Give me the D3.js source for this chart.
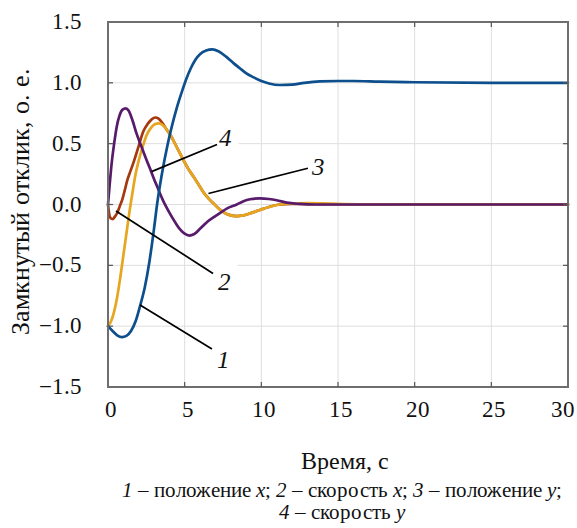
<!DOCTYPE html>
<html><head><meta charset="utf-8">
<script src="https://cdn.jsdelivr.net/npm/d3@7"></script>
<style>
@font-face{font-family:"ChartSerif";font-style:normal;font-weight:400;src:local("Liberation Serif"),local("LiberationSerif"),local("Tinos"),local("Times New Roman");}
@font-face{font-family:"ChartSerif";font-style:italic;font-weight:400;src:local("Liberation Serif Italic"),local("LiberationSerif-Italic"),local("Tinos Italic"),local("Times New Roman Italic");}
body{margin:0;background:#fff}
#c text{font-family:"ChartSerif","Liberation Serif";}
</style>
</head><body>
<svg id="c" width="577" height="528"></svg>
<script>
// ---- data ----
const xTicks = [0, 5, 10, 15, 20, 25, 30];
const xTickLabels = ["0", "5", "10", "15", "20", "25", "30"];
const yTicks = [-1.5, -1.0, -0.5, 0, 0.5, 1.0, 1.5];
const yTickLabels = ["\u2212" + "1.5", "\u2212" + "1.0", "\u2212" + "0.5", "0.0", "0.5", "1.0", "1.5"];
const xTitle = "Время, с";
const yTitle = "Замкнутый отклик, о. е.";

// 1 – position x
const posX = [[0,-1.0],[0.3,-1.04],[0.6,-1.075],[0.9,-1.09],[1.2,-1.08],[1.5,-1.04],[1.8,-0.96],[2.1,-0.83],[2.4,-0.68],[2.7,-0.47],[3.0,-0.2],[3.2,0.0],[3.5,0.24],[3.9,0.5],[4.2,0.66],[4.5,0.8],[4.8,0.92],[5.1,1.03],[5.4,1.12],[5.7,1.19],[6.0,1.235],[6.4,1.265],[6.8,1.275],[7.2,1.26],[7.7,1.215],[8.2,1.16],[8.6,1.12],[9.0,1.08],[9.5,1.045],[10.0,1.015],[10.5,0.995],[11.2,0.982],[12.0,0.985],[12.8,1.0],[13.8,1.012],[15.0,1.015],[16.0,1.015],[17.7,1.01],[20,1.005],[25,1.0],[30,1.0]];
// 2 – velocity x
const velX = [[0,0],[0.08,-0.08],[0.18,-0.115],[0.3,-0.12],[0.45,-0.1],[0.6,-0.07],[0.75,-0.02],[0.93,0.04],[1.1,0.12],[1.26,0.2],[1.45,0.27],[1.65,0.34],[2.0,0.48],[2.3,0.6],[2.6,0.665],[2.85,0.7],[3.07,0.715],[3.3,0.705],[3.55,0.67],[3.8,0.62],[4.1,0.565],[4.37,0.5],[4.65,0.43],[4.91,0.366],[5.25,0.29],[5.57,0.23],[5.9,0.165],[6.2,0.105],[6.55,0.05],[6.87,0.01],[7.2,-0.03],[7.5,-0.06],[7.9,-0.085],[8.4,-0.095],[8.8,-0.09],[9.26,-0.073],[9.9,-0.045],[10.5,-0.02],[11.2,0.0],[12,0.004],[14,0.002],[20,0],[30,0]];
// 3 – position y
const posY = [[0,-1.0],[0.2,-0.96],[0.4,-0.88],[0.6,-0.76],[0.8,-0.6],[1.0,-0.42],[1.2,-0.24],[1.4,-0.06],[1.6,0.1],[1.8,0.25],[2.0,0.36],[2.25,0.47],[2.52,0.57],[2.8,0.63],[3.05,0.66],[3.3,0.667],[3.55,0.655],[3.8,0.62],[4.1,0.565],[4.37,0.5],[4.65,0.43],[4.91,0.366],[5.25,0.29],[5.57,0.23],[5.9,0.165],[6.2,0.105],[6.55,0.05],[6.87,0.01],[7.2,-0.03],[7.5,-0.06],[7.9,-0.085],[8.4,-0.095],[8.8,-0.09],[9.26,-0.073],[9.9,-0.045],[10.5,-0.02],[11.2,0.0],[12,0.008],[13,0.012],[14,0.01],[15,0.006],[17,0.002],[20,0],[30,0]];
// 4 – velocity y
const velY = [[0,0],[0.1,0.15],[0.24,0.34],[0.4,0.5],[0.57,0.64],[0.75,0.73],[0.95,0.78],[1.15,0.79],[1.35,0.77],[1.6,0.69],[1.87,0.58],[2.2,0.47],[2.5,0.37],[2.74,0.295],[3.0,0.21],[3.2,0.15],[3.39,0.09],[3.6,0.03],[3.8,-0.02],[4.04,-0.075],[4.4,-0.15],[4.7,-0.205],[5.0,-0.24],[5.3,-0.255],[5.6,-0.245],[6.0,-0.2],[6.5,-0.14],[7.0,-0.095],[7.3,-0.07],[7.8,-0.03],[8.4,0.0],[8.8,0.025],[9.26,0.043],[9.9,0.05],[10.5,0.045],[11.0,0.035],[11.65,0.015],[12.5,0.005],[13.5,0.0],[30,0]];

const seriesData = [velX, posY, velY, posX];           // drawing order (bottom -> top)
const seriesColors = ["#a5380f", "#e6a620", "#581b6b", "#0c4f8c"];

// annotation pointers in data units: anchor on curve, line end, label position
const annoLabels = ["1", "2", "3", "4"];
const annoAnchor = [[2.09,-0.826],[0.52,-0.053],[6.55,0.09],[2.84,0.27]];
const annoEnd    = [[6.78,-1.188],[6.85,-0.567],[13.04,0.298],[7.11,0.493]];
const annoText   = [[7.53,-1.344],[7.6,-0.703],[13.76,0.242],[7.66,0.481]];

// ---- chart ----
const svg = d3.select("#c");
const W = 577, H = 528;
const m = {left:108, right:9, top:22, bottom:141};
const x = d3.scaleLinear().domain([0,30]).range([m.left, W - m.right]);
const y = d3.scaleLinear().domain([-1.5,1.5]).range([H - m.bottom, m.top]);

function txt(sel, size){
  return sel.style("font-family",'"ChartSerif", "Liberation Serif"').attr("font-size",size).attr("fill","#111");
}

svg.append("rect").attr("width",W).attr("height",H).attr("fill","#fff");

// grid
const grid = svg.append("g");
grid.selectAll(".gx").data(xTicks.slice(1,-1)).join("line")
  .attr("x1",d=>x(d)).attr("x2",d=>x(d)).attr("y1",y(1.5)).attr("y2",y(-1.5))
  .attr("stroke","#dedede").attr("stroke-width",1);
grid.selectAll(".gy").data(yTicks.slice(1,-1)).join("line")
  .attr("x1",x(0)).attr("x2",x(30)).attr("y1",d=>y(d)).attr("y2",d=>y(d))
  .attr("stroke","#dedede").attr("stroke-width",1);

// white boxes behind annotation labels (grid gaps)
svg.append("g").selectAll("rect").data(annoText).join("rect")
  .attr("x",d=>x(d[0])-13).attr("y",d=>y(d[1])-26).attr("width",26).attr("height",34)
  .attr("fill","#fff");

// curves
const line = d3.line().x(d=>x(d[0])).y(d=>y(d[1])).curve(d3.curveMonotoneX);
svg.append("g").selectAll("path").data(seriesData).join("path")
  .attr("d",line).attr("fill","none")
  .attr("stroke",(d,i)=>seriesColors[i]).attr("stroke-width",2.7)
  .attr("stroke-linejoin","round").attr("stroke-linecap","round");

// frame
svg.append("rect").attr("x",x(0)).attr("y",y(1.5)).attr("width",x(30)-x(0)).attr("height",y(-1.5)-y(1.5))
  .attr("fill","none").attr("stroke","#6e6e6e").attr("stroke-width",2);

// inward ticks on all sides
const tk = svg.append("g").attr("stroke","#555").attr("stroke-width",1.2);
xTicks.slice(1,-1).forEach(t=>{
  tk.append("line").attr("x1",x(t)).attr("x2",x(t)).attr("y1",y(-1.5)).attr("y2",y(-1.5)-5);
  tk.append("line").attr("x1",x(t)).attr("x2",x(t)).attr("y1",y(1.5)).attr("y2",y(1.5)+5);
});
yTicks.slice(1,-1).forEach(v=>{
  tk.append("line").attr("x1",x(0)).attr("x2",x(0)+5).attr("y1",y(v)).attr("y2",y(v));
  tk.append("line").attr("x1",x(30)).attr("x2",x(30)-5).attr("y1",y(v)).attr("y2",y(v));
});

// tick labels
xTicks.forEach((d,i)=>{
  txt(svg.append("text"),23)
    .attr("x", i===xTicks.length-1 ? x(d)-5 : x(d)+3).attr("y",417).attr("text-anchor","middle")
    .text(xTickLabels[i]);
});
yTicks.forEach((d,i)=>{
  txt(svg.append("text"),23)
    .attr("x",82).attr("y",y(d)+7).attr("text-anchor","end")
    .text(yTickLabels[i]);
});

// axis titles
txt(svg.append("text"),24).attr("x",345).attr("y",469).attr("text-anchor","middle").text(xTitle);
txt(svg.append("text"),26).attr("transform",`translate(29,${(y(1.5)+y(-1.5))/2 - 3}) rotate(-90)`)
  .attr("text-anchor","middle").text(yTitle);

// annotation pointers
annoLabels.forEach((lab,i)=>{
  svg.append("line").attr("x1",x(annoAnchor[i][0])).attr("y1",y(annoAnchor[i][1]))
    .attr("x2",x(annoEnd[i][0])).attr("y2",y(annoEnd[i][1]))
    .attr("stroke","#000").attr("stroke-width",1.7);
  txt(svg.append("text"),25).attr("x",x(annoText[i][0])).attr("y",y(annoText[i][1]))
    .attr("text-anchor","middle").style("font-style","italic").text(lab);
});

// caption
const capParts1 = [["1",true],[" – положение ",false],["x",true],["; ",false],["2",true],[" – скорость ",false],["x",true],["; ",false],["3",true],[" – положение ",false],["y",true],[";",false]];
const capParts2 = [["4",true],[" – скорость ",false],["y",true]];
function caption(parts, yy){
  const t = txt(svg.append("text"),21).attr("x",342).attr("y",yy).attr("text-anchor","middle");
  parts.forEach(p=>t.append("tspan").style("font-style",p[1]?"italic":"normal").text(p[0]));
}
caption(capParts1, 497);
caption(capParts2, 519);
</script>
</body></html>
